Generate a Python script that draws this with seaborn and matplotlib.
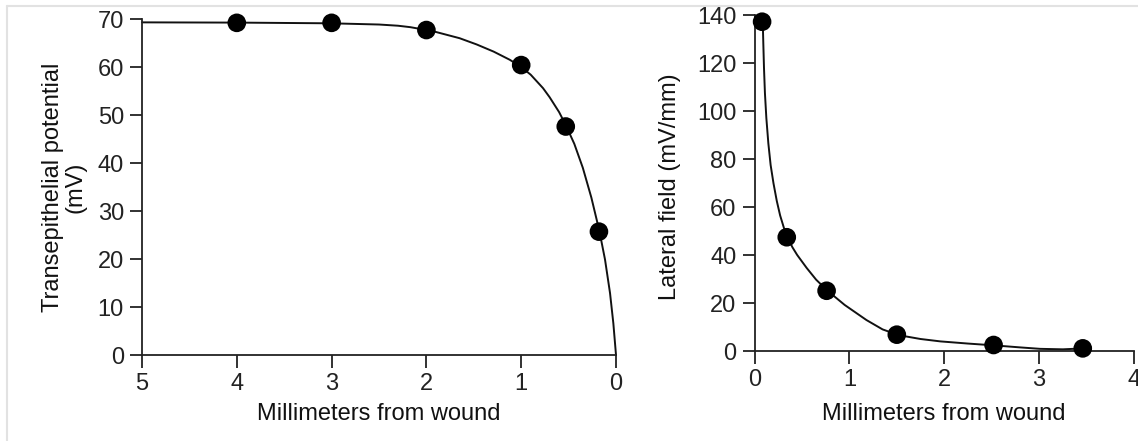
import matplotlib
matplotlib.use("Agg")
import matplotlib.pyplot as plt
from matplotlib.lines import Line2D
import pandas as pd
import seaborn as sns

# Transepithelial potential measured at distances from the wound edge
potential_mm = [4.0, 3.0, 2.0, 1.0, 0.53, 0.18]
potential_mv = [69.2, 69.2, 67.7, 60.4, 47.6, 25.7]

# Fitted potential profile (traced)
potential_fit_mm = [5.0, 4.0, 3.0, 2.5, 2.3, 2.17, 2.0, 1.9, 1.65, 1.47, 1.29,
                    1.12, 1.0, 0.9, 0.77, 0.7, 0.6, 0.53, 0.44, 0.35, 0.26,
                    0.176, 0.116, 0.063, 0.028, 0.0]
potential_fit_mv = [69.3, 69.25, 69.1, 68.85, 68.6, 68.3, 67.7, 67.3, 66.0, 64.7,
                    63.2, 61.5, 60.0, 58.4, 55.6, 53.7, 50.6, 47.9, 44.0, 39.0,
                    32.8, 25.9, 19.9, 12.9, 6.6, 0.0]

# Lateral electric field at distances from the wound edge
field_mm = [0.08, 0.34, 0.76, 1.5, 2.52, 3.46]
field_mv_mm = [137.2, 47.4, 25.1, 6.8, 2.5, 1.1]

# Fitted field profile (traced)
field_fit_mm = [0.087, 0.093, 0.10, 0.11, 0.125, 0.146, 0.17, 0.2, 0.235, 0.27,
                0.31, 0.346, 0.4, 0.45, 0.55, 0.65, 0.77, 0.95, 1.18, 1.35,
                1.52, 1.75, 1.96, 2.25, 2.54, 2.8, 3.01, 3.25, 3.47]
field_fit_mv_mm = [137.2, 128.0, 118.0, 107.4, 97.0, 86.5, 77.5, 69.9, 62.5, 56.5,
                   51.3, 47.4, 43.2, 40.0, 34.6, 29.7, 25.1, 19.2, 12.9, 9.0,
                   6.6, 5.0, 4.0, 3.1, 2.3, 1.5, 0.9, 0.7, 1.1]

potential_ticks_x = [5, 4, 3, 2, 1, 0]
potential_ticks_y = [0, 10, 20, 30, 40, 50, 60, 70]
field_ticks_x = [0, 1, 2, 3, 4]
field_ticks_y = [0, 20, 40, 60, 80, 100, 120, 140]

sns.set_theme(style="ticks")
ink = "#111111"
plt.rcParams.update({
    "font.family": ["Liberation Sans", "DejaVu Sans"],
    "font.size": 17,
    "axes.labelsize": 17,
    "axes.linewidth": 1.3,
    "axes.edgecolor": "#222222",
    "xtick.major.size": 9,
    "ytick.major.size": 9,
    "xtick.major.width": 1.3,
    "ytick.major.width": 1.3,
    "xtick.major.pad": 4,
    "ytick.major.pad": 4,
    "xtick.labelsize": 17,
    "ytick.labelsize": 17,
    "xtick.color": "#222222",
    "ytick.color": "#222222",
    "text.color": ink,
    "axes.labelcolor": ink,
})

fig = plt.figure(figsize=(11.38, 4.41), dpi=100)
ax1 = fig.add_axes([142 / 1138, 1 - 355 / 441, 474 / 1138, 336 / 441])
ax2 = fig.add_axes([754.5 / 1138, 1 - 351 / 441, 379.5 / 1138, 336 / 441])

pot_fit = pd.DataFrame({"mm": potential_fit_mm, "mv": potential_fit_mv})
pot_pts = pd.DataFrame({"mm": potential_mm, "mv": potential_mv})
fld_fit = pd.DataFrame({"mm": field_fit_mm, "mv": field_fit_mv_mm})
fld_pts = pd.DataFrame({"mm": field_mm, "mv": field_mv_mm})

for ax, fit, pts in ((ax1, pot_fit, pot_pts), (ax2, fld_fit, fld_pts)):
    sns.lineplot(data=fit, x="mm", y="mv", ax=ax, sort=False, estimator=None,
                 color=ink, linewidth=1.4, clip_on=False)
    sns.scatterplot(data=pts, x="mm", y="mv", ax=ax, s=180, color="black",
                    edgecolor="none", linewidth=0, clip_on=False, zorder=5)
    ax.set_facecolor("white")
    sns.despine(ax=ax)

ax1.set_xlim(5, 0)
ax1.set_ylim(0, 70)
ax1.set_xticks(potential_ticks_x)
ax1.set_yticks(potential_ticks_y)
ax1.set_xlabel("Millimeters from wound")
ax1.set_ylabel("Transepithelial potential\n(mV)", linespacing=1.0)
ax1.yaxis.set_label_coords(-0.118, 0.5)
ax1.xaxis.set_label_coords(0.5, -0.143)

ax2.set_xlim(0, 4)
ax2.set_ylim(0, 140)
ax2.set_xticks(field_ticks_x)
ax2.set_yticks(field_ticks_y)
ax2.set_xlabel("Millimeters from wound")
ax2.set_ylabel("Lateral field (mV/mm)")
ax2.yaxis.set_label_coords(-0.193, 0.49)
ax2.xaxis.set_label_coords(0.5, -0.155)

# light frame along the top and left edges of the figure
fig.add_artist(Line2D([7 / 1138, 1], [1 - 6 / 441, 1 - 6 / 441],
                      transform=fig.transFigure, color="#e2e2e2", linewidth=1.5))
fig.add_artist(Line2D([7 / 1138, 7 / 1138], [0, 1 - 6 / 441],
                      transform=fig.transFigure, color="#e2e2e2", linewidth=1.5))

fig.savefig("out.png", dpi=100, facecolor="white")
